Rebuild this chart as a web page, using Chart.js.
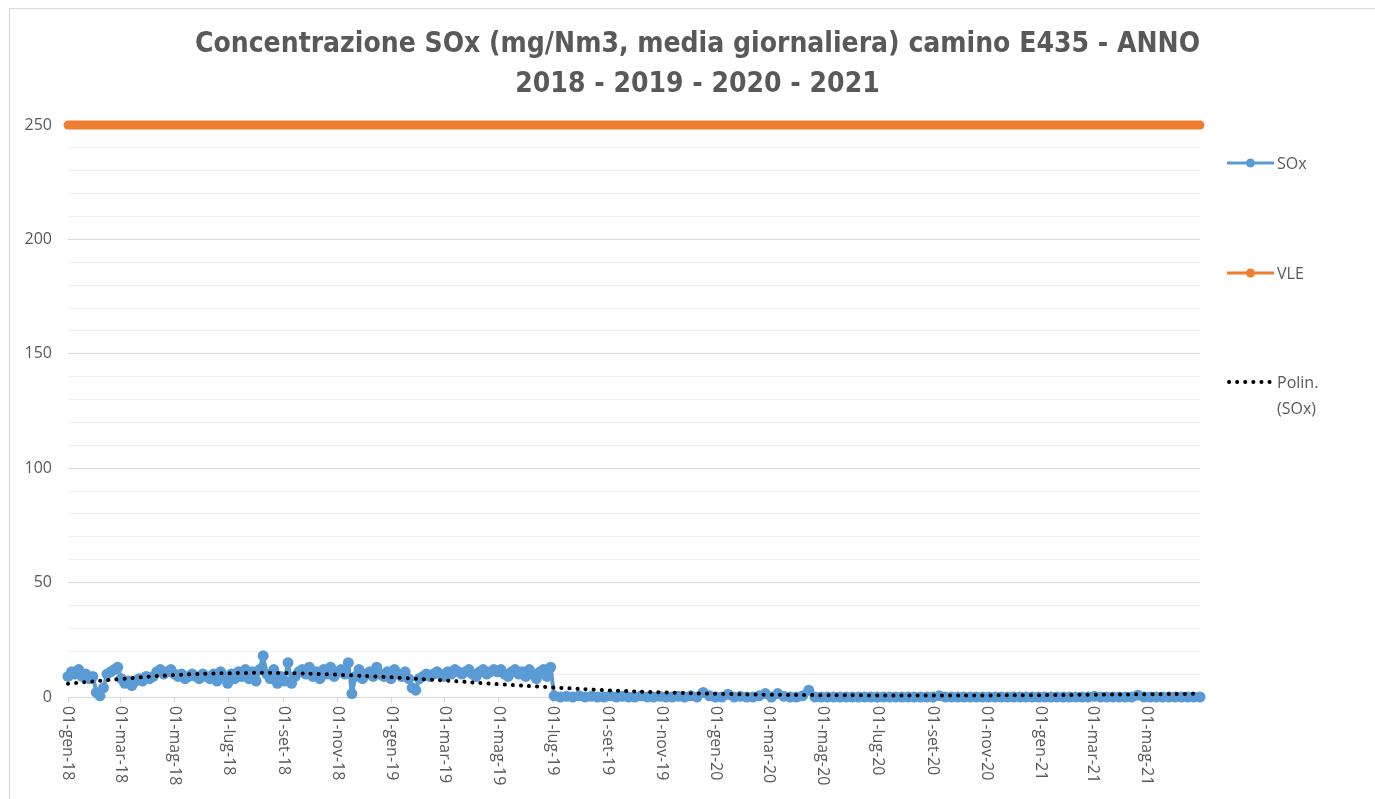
<!DOCTYPE html>
<html>
<head>
<meta charset="utf-8">
<script src="https://cdn.jsdelivr.net/npm/chart.js@4.4.1/dist/chart.umd.min.js"></script>
<style>
  html, body { margin: 0; padding: 0; background: #fff; overflow: hidden; }
  #wrap { position: relative; width: 1375px; height: 799px; }
  #frame { position: absolute; left: 9px; top: 8px; width: 1400px; height: 900px; border: 1px solid #d9d9d9; }
  #chartCanvas { position: absolute; left: 0; top: 0; }
  .leg { position: absolute; left: 1227px; font: 16px "Open Sans", sans-serif; color: #595959; }
  .leg svg { position: absolute; left: 0; top: 0; }
  .leg span { position: absolute; left: 50px; white-space: nowrap; line-height: 26px; }
</style>
</head>
<body>
<div id="wrap">
  <div id="frame"></div>
  <canvas id="chartCanvas" width="1375" height="799"></canvas>
  <div class="leg" style="top:163px">
    <svg width="48" height="12" style="top:-6px"><line x1="0" y1="6" x2="47" y2="6" stroke="#5B9BD5" stroke-width="3"/><circle cx="23.5" cy="6" r="4.5" fill="#5B9BD5"/></svg>
    <span style="top:-13px">SOx</span>
  </div>
  <div class="leg" style="top:273px">
    <svg width="48" height="12" style="top:-6px"><line x1="0" y1="6" x2="47" y2="6" stroke="#ED7D31" stroke-width="3"/><circle cx="23.5" cy="6" r="4.5" fill="#ED7D31"/></svg>
    <span style="top:-13px">VLE</span>
  </div>
  <div class="leg" style="top:382px">
    <svg width="48" height="12" style="top:-6px"><line x1="2" y1="6" x2="46" y2="6" stroke="#000" stroke-width="4" stroke-linecap="round" stroke-dasharray="0.1 8"/></svg>
    <span style="top:-13px">Polin.<br>(SOx)</span>
  </div>
</div>
<script>
// x axis: day number counted from 01-gen-18
const tickDays = [0, 59, 120, 181, 243, 304, 365, 424, 485, 546, 608, 669, 730, 790, 851, 912, 974, 1035, 1096, 1155, 1216];
const tickLabels = ['01-gen-18', '01-mar-18', '01-mag-18', '01-lug-18', '01-set-18', '01-nov-18', '01-gen-19', '01-mar-19', '01-mag-19', '01-lug-19', '01-set-19', '01-nov-19', '01-gen-20', '01-mar-20', '01-mag-20', '01-lug-20', '01-set-20', '01-nov-20', '01-gen-21', '01-mar-21', '01-mag-21'];
const lastDay = 1276;

// SOx daily averages, read every 4 days up to the end of June 2019
const soxStartA = 0, soxStepA = 4;
const soxValuesA = [
  9, 11, 10, 12, 9, 10, 8, 9, 2, 0.5,
  4, 10, 11, 12, 13, 8, 6, 7, 5, 7,
  8, 7, 9, 8, 9, 11, 12, 10, 11, 12,
  10, 9, 10, 8, 9, 10, 9, 8, 10, 9,
  8, 10, 7, 11, 9, 6, 10, 8, 11, 9,
  12, 8, 11, 7, 12, 18, 10, 8, 12, 6,
  9, 7, 15, 6, 9, 11, 12, 10, 13, 9,
  11, 8, 12, 10, 13, 9, 11, 12, 10, 15,
  1.5, 9, 12, 8, 10, 11, 9, 13, 10, 9,
  11, 8, 12, 10, 9, 11, 8, 4, 3, 8,
  9, 10, 9, 10, 11, 10, 9, 11, 10, 12,
  11, 10, 11, 12, 10, 9, 11, 12, 10, 11,
  12, 11, 12, 10, 9, 11, 12, 10, 11, 9,
  12, 10, 8, 11, 12, 9, 13
];
// SOx from July 2019, read every 7 days
const soxStartB = 548, soxStepB = 7;
const soxValuesB = [
  0.5, 0, 0.3, 0, 0.5, 0, 0.3, 0, 0, 0.5,
  0, 0.3, 0, 0, 0.5, 0, 0, 0.3, 0, 0,
  0.3, 0, 0.5, 0, 2, 0.5, 0, 0, 1.2, 0,
  0.3, 0, 0, 0.5, 1.5, 0, 1.5, 0.3, 0, 0,
  0.5, 3, 0, 0, 0, 0, 0, 0, 0, 0,
  0, 0, 0, 0, 0, 0, 0, 0, 0, 0,
  0, 0, 0.6, 0, 0, 0, 0, 0, 0, 0,
  0, 0, 0, 0, 0, 0, 0, 0, 0, 0,
  0, 0, 0, 0, 0, 0, 0, 0.3, 0, 0,
  0, 0, 0, 0, 0.8, 0, 0, 0, 0, 0,
  0, 0, 0, 0, 0
];

// emission limit value
const vleDays = [0, lastDay];
const vleValues = [250, 250];

// polynomial trendline of SOx
const trendDays = [0, 60, 120, 180, 240, 300, 365, 425, 485, 546, 610, 670, 730, 790, 850, 910, 975, 1035, 1095, 1155, 1216, 1276];
const trendValues = [5.8, 7.9, 9.6, 10.4, 10.5, 9.8, 8.6, 7.2, 5.6, 4.2, 2.9, 2.0, 1.4, 1.0, 0.8, 0.7, 0.7, 0.7, 0.8, 1.0, 1.2, 1.4];

const soxPoints = soxValuesA.map((v, i) => ({ x: soxStartA + i * soxStepA, y: v }))
  .concat(soxValuesB.map((v, i) => ({ x: soxStartB + i * soxStepB, y: v })));
const vlePoints = vleDays.map((d, i) => ({ x: d, y: vleValues[i] }));
const trendPoints = trendDays.map((d, i) => ({ x: d, y: trendValues[i] }));

const txt = '#595959';

// x labels read top-to-bottom, as in the original
const verticalLabels = {
  id: 'verticalLabels',
  afterDraw(c) {
    const ctx = c.ctx, xs = c.scales.x;
    ctx.save();
    ctx.fillStyle = txt;
    ctx.font = '16px "Open Sans", sans-serif';
    ctx.textAlign = 'left';
    ctx.textBaseline = 'middle';
    tickDays.forEach((d, i) => {
      ctx.save();
      ctx.translate(xs.getPixelForValue(d), xs.top + 9);
      ctx.rotate(Math.PI / 2);
      ctx.fillText(tickLabels[i], 0, 0);
      ctx.restore();
    });
    ctx.restore();
  }
};

const chart = new Chart(document.getElementById('chartCanvas').getContext('2d'), {
  type: 'line',
  data: {
    datasets: [
      { label: 'Polin. (SOx)', data: trendPoints, borderColor: '#000', borderWidth: 4, borderDash: [0.1, 8], borderCapStyle: 'round', pointRadius: 0, tension: 0.4, order: 0, clip: false },
      { label: 'VLE', data: vlePoints, borderColor: '#ED7D31', borderWidth: 9, borderCapStyle: 'round', pointRadius: 0, order: 1, clip: false },
      { label: 'SOx', data: soxPoints, borderColor: '#5B9BD5', backgroundColor: '#5B9BD5', borderWidth: 4, borderJoinStyle: 'round', pointRadius: 5.5, pointBorderWidth: 0, pointBackgroundColor: '#5B9BD5', order: 2, clip: false }
    ]
  },
  options: {
    responsive: false,
    animation: false,
    layout: { padding: { left: 20, right: 0, top: 0, bottom: 0 } },
    plugins: {
      legend: { display: false },
      tooltip: { enabled: false },
      title: {
        display: true,
        text: ['Concentrazione SOx (mg/Nm3, media giornaliera) camino E435 - ANNO', '2018 - 2019 - 2020 - 2021'],
        color: txt,
        font: { family: '"DejaVu Sans Condensed", sans-serif', size: 28, weight: 'bold', lineHeight: 1.43 },
        padding: { top: 25, bottom: 20 }
      }
    },
    scales: {
      x: {
        type: 'linear', min: 0, max: lastDay,
        afterBuildTicks: s => { s.ticks = tickDays.map(v => ({ value: v })); },
        afterFit: s => { s.height = 102; },
        ticks: { display: false },
        grid: { drawOnChartArea: false, drawTicks: true, tickLength: 6, color: '#d9d9d9' },
        border: { display: true, color: '#d9d9d9', width: 1 }
      },
      y: {
        min: 0, max: 250,
        afterFit: s => { s.width = 48; },
        ticks: { stepSize: 10, autoSkip: false, padding: 16, color: txt, font: { family: '"Open Sans", sans-serif', size: 16 }, callback: v => v % 50 === 0 ? v : '' },
        grid: { drawTicks: false, color: ctx => ctx.tick && ctx.tick.value % 50 === 0 ? '#d9d9d9' : '#f0f0f0' },
        border: { display: false }
      },
      // empty right-hand box that leaves room for the legend
      legendSpace: {
        type: 'linear', position: 'right', display: true,
        afterFit: s => { s.width = 175; },
        ticks: { display: false },
        grid: { display: false, drawOnChartArea: false },
        border: { display: false }
      }
    }
  },
  plugins: [verticalLabels]
});
</script>
</body>
</html>
